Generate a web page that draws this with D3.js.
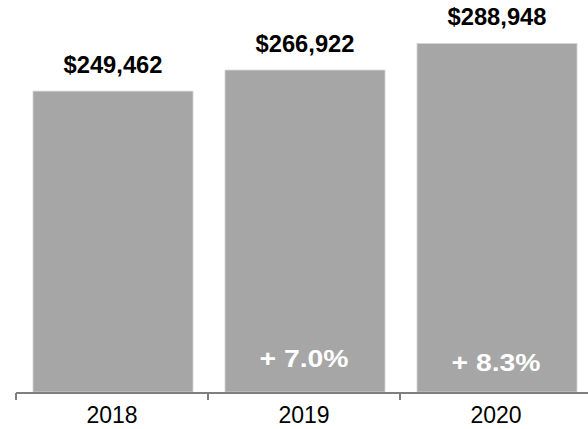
<!DOCTYPE html>
<html>
<head>
<meta charset="utf-8">
<script src="https://cdn.jsdelivr.net/npm/d3@7"></script>
<style>
  html, body { margin: 0; padding: 0; background: #fff; }
  svg { display: block; }
  text { font-family: "Liberation Sans", Arial, Helvetica, sans-serif; }
</style>
</head>
<body>
<svg id="chart" width="588" height="429"></svg>
<script>
const years = ["2018", "2019", "2020"];
const revenue = [249462, 266922, 288948];
const growthLabels = [null, "+ 7.0%", "+ 8.3%"];

const svg = d3.select("#chart");
const W = 588, H = 429;
const baseY = 392;

const x = d3.scaleBand()
  .domain(years)
  .range([16, 592])
  .paddingInner(1 / 6)
  .paddingOuter(1 / 12);

const y = d3.scaleLinear()
  .domain([0, 325000])
  .range([baseY, 0]);

const data = years.map((yr, i) => ({ yr, v: revenue[i], g: growthLabels[i] }));

// bars
svg.append("g").selectAll("rect")
  .data(data)
  .join("rect")
  .attr("x", d => x(d.yr) + 1)
  .attr("y", d => y(d.v))
  .attr("width", x.bandwidth())
  .attr("height", d => baseY - y(d.v))
  .attr("fill", "#a6a6a6")
  .attr("stroke", "#d4d4d4")
  .attr("stroke-width", 0.8);

// value labels
svg.append("g").selectAll("text")
  .data(data)
  .join("text")
  .attr("x", d => x(d.yr) + 1 + x.bandwidth() / 2)
  .attr("y", d => y(d.v) - 18)
  .attr("text-anchor", "middle")
  .attr("font-size", 23)
  .attr("font-weight", "bold")
  .attr("fill", "#000")
  .attr("textLength", 99)
  .attr("lengthAdjust", "spacingAndGlyphs")
  .text(d => "$" + d3.format(",")(d.v));

// growth labels
const gOffsets = [0, 25, 21.5];
svg.append("g").selectAll("text")
  .data(data.filter(d => d.g))
  .join("text")
  .attr("x", d => x(d.yr) + x.bandwidth() / 2)
  .attr("y", (d) => baseY - gOffsets[years.indexOf(d.yr)])
  .attr("text-anchor", "middle")
  .attr("font-size", 24)
  .attr("font-weight", "bold")
  .attr("fill", "#fff")
  .attr("textLength", 89)
  .attr("lengthAdjust", "spacingAndGlyphs")
  .text(d => d.g);

// x axis
const axis = d3.axisBottom(x).tickSize(0).tickPadding(14);
const ax = svg.append("g")
  .attr("transform", `translate(0,${baseY + 1})`)
  .call(axis);
ax.select(".domain").remove();
ax.selectAll("text")
  .attr("font-size", 23)
  .attr("fill", "#000")
  .attr("dy", "0.71em")
  .style("font-family", "\"Liberation Sans\", Arial, sans-serif");

svg.append("line")
  .attr("x1", 16).attr("x2", W)
  .attr("y1", baseY + 1).attr("y2", baseY + 1)
  .attr("stroke", "#7f7f7f")
  .attr("stroke-width", 2);

const step = x.step();
const boundaries = years.map(yr => x(yr) - (step - x.bandwidth()) / 2);
svg.append("g").selectAll("line")
  .data(boundaries)
  .join("line")
  .attr("x1", d => d).attr("x2", d => d)
  .attr("y1", baseY + 1).attr("y2", baseY + 8)
  .attr("stroke", "#7f7f7f")
  .attr("stroke-width", 2);
</script>
</body>
</html>
